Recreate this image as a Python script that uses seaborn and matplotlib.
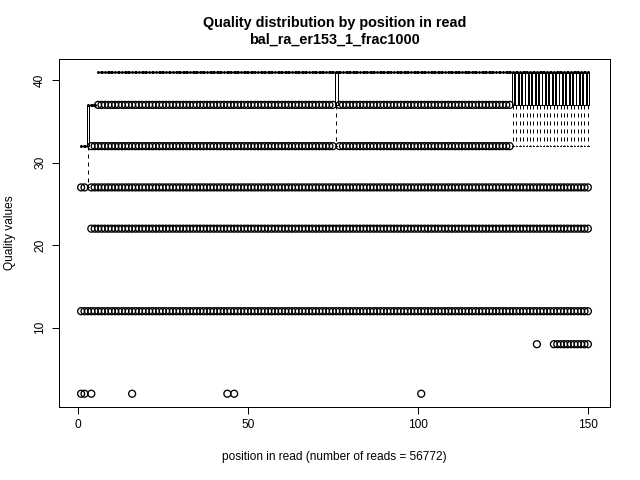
import pandas as pd
import seaborn as sns
from matplotlib import pyplot as plt

TITLE = "Quality distribution by position in read\nbal_ra_er153_1_frac1000"
N_READS = 56772
N_POS = 150

# box summaries, given as runs of positions that share the same box
run_first = [1, 3, 4, 6, 76, 77, 128]
run_last = [2, 3, 5, 75, 76, 127, 150]
run_q1 = [32, 32, 37, 41, 37, 41, 37]
run_med = [32, 37, 37, 41, 41, 41, 41]
run_q3 = [32, 37, 37, 41, 41, 41, 41]
run_lo = [32, 27, 37, 41, 32, 41, 32]
run_hi = [32, 37, 37, 41, 41, 41, 41]

# outlying quality values and the position ranges where they appear
out_levels = [37, 32, 27, 22, 12, 8, 2]
out_ranges = [
    [(6, 75), (77, 127)],
    [(4, 75), (77, 127)],
    [(1, 2), (4, 150)],
    [(4, 150)],
    [(1, 150)],
    [(135, 135), (140, 150)],
    [(1, 2), (4, 4), (16, 16), (44, 44), (46, 46), (101, 101)],
]


def build_stats():
    stats = []
    runs = zip(run_first, run_last, run_q1, run_med, run_q3, run_lo, run_hi)
    for first, last, q1, med, q3, lo, hi in runs:
        for _ in range(first, last + 1):
            stats.append(dict(q1=q1, med=med, q3=q3, whislo=lo, whishi=hi, fliers=[]))
    return stats


def build_outliers():
    rows = []
    for level, ranges in zip(out_levels, out_ranges):
        for first, last in ranges:
            for pos in range(first, last + 1):
                rows.append((pos, level))
    return pd.DataFrame(rows, columns=["position", "quality"])


stats = build_stats()
outliers = build_outliers()
positions = list(range(1, N_POS + 1))

sns.set_style("ticks")
plt.rcParams["font.family"] = ["Liberation Sans", "DejaVu Sans"]
for key in ["text.color", "axes.labelcolor", "xtick.color", "ytick.color"]:
    plt.rcParams[key] = "black"

fig = plt.figure(figsize=(6.4, 4.8), dpi=100)
ax = fig.add_axes([59 / 640, 73.4 / 480, 551 / 640, 347.6 / 480])

lw = 0.72
ax.bxp(stats, positions=positions, widths=0.8, capwidths=0.4,
       showfliers=False, manage_ticks=False,
       boxprops=dict(color="black", lw=lw),
       whiskerprops=dict(color="black", lw=lw, linestyle=(0, (4, 4))),
       capprops=dict(color="black", lw=lw),
       medianprops=dict(color="black", lw=3 * lw, solid_capstyle="butt"))

sns.scatterplot(data=outliers, x="position", y="quality", ax=ax,
                marker="o", s=25, facecolors="none", edgecolor="black",
                linewidth=0.95, legend=False, zorder=3)

# R style 4% padding on both axes
all_vals = list(outliers["quality"]) + run_lo + run_hi
ymin, ymax = min(all_vals), max(all_vals)
ypad = 0.04 * (ymax - ymin)
ax.set_ylim(ymin - ypad, ymax + ypad)
xpad = 0.04 * N_POS
ax.set_xlim(0.5 - xpad, N_POS + 0.5 + xpad)

ax.set_xticks([0, 50, 100, 150])
ax.set_yticks([10, 20, 30, 40])
ax.tick_params(length=5.2, width=lw, labelsize=8.6, pad=4, color="black")
ax.tick_params(axis="y", labelrotation=90)
for lab in ax.get_yticklabels():
    lab.set_va("center")
for sp in ax.spines.values():
    sp.set_linewidth(lw)
    sp.set_color("black")

ax.set_title(TITLE, fontsize=10.4, fontweight="bold", pad=11, linespacing=1.25)
ax.set_xlabel(f"position in read (number of reads = {N_READS})", fontsize=8.6)
ax.set_ylabel("Quality values", fontsize=8.6)
ax.xaxis.set_label_coords(0.5, -(457 - 406.6) / 347.6)
ax.xaxis.label.set_va("center")
ax.yaxis.set_label_coords(-(59 - 10) / 551, 0.5)
ax.yaxis.label.set_va("center")

fig.savefig("out.png", dpi=100)
